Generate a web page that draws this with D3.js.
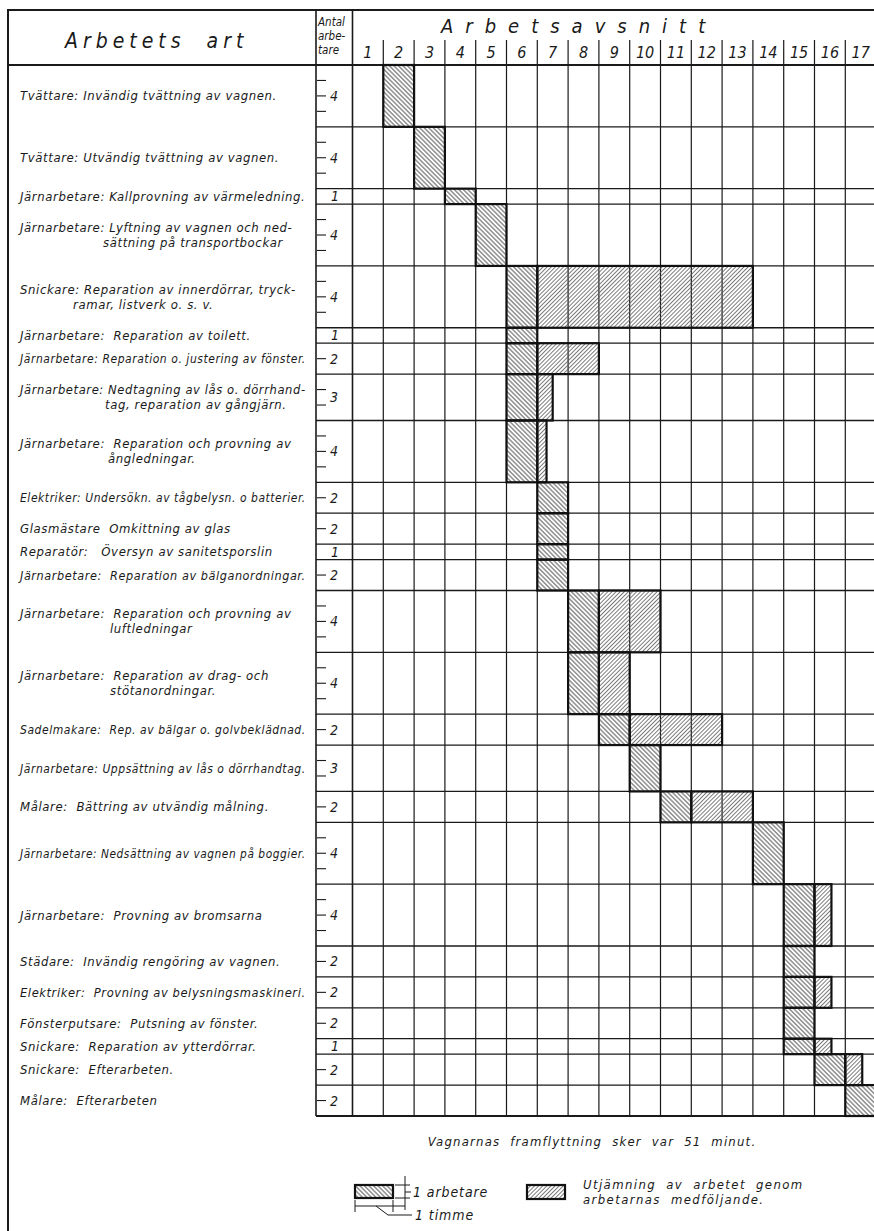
<!DOCTYPE html>
<html><head><meta charset="utf-8">
<script src="https://cdn.jsdelivr.net/npm/d3@7"></script>
<style>
body{margin:0;background:#fff}
text{font-family:"DejaVu Sans Condensed","DejaVu Sans",sans-serif;font-style:italic;fill:#1a1a1a;white-space:pre}
</style>
</head><body>
<svg id="c" width="874" height="1231"></svg>
<script>
// ---------------- DATA ----------------
const labels = [
 ["Tvättare: Invändig tvättning av vagnen."],
 ["Tvättare: Utvändig tvättning av vagnen."],
 ["Järnarbetare: Kallprovning av värmeledning."],
 ["Järnarbetare: Lyftning av vagnen och ned-", "sättning på transportbockar"],
 ["Snickare: Reparation av innerdörrar, tryck-", "ramar, listverk o. s. v."],
 ["Järnarbetare:  Reparation av toilett."],
 ["Järnarbetare: Reparation o. justering av fönster."],
 ["Järnarbetare: Nedtagning av lås o. dörrhand-", "tag, reparation av gångjärn."],
 ["Järnarbetare:  Reparation och provning av", "ångledningar."],
 ["Elektriker: Undersökn. av tågbelysn. o batterier."],
 ["Glasmästare  Omkittning av glas"],
 ["Reparatör:   Översyn av sanitetsporslin"],
 ["Järnarbetare:  Reparation av bälganordningar."],
 ["Järnarbetare:  Reparation och provning av", "luftledningar"],
 ["Järnarbetare:  Reparation av drag- och", "stötanordningar."],
 ["Sadelmakare:  Rep. av bälgar o. golvbeklädnad."],
 ["Järnarbetare: Uppsättning av lås o dörrhandtag."],
 ["Målare:  Bättring av utvändig målning."],
 ["Järnarbetare: Nedsättning av vagnen på boggier."],
 ["Järnarbetare:  Provning av bromsarna"],
 ["Städare:  Invändig rengöring av vagnen."],
 ["Elektriker:  Provning av belysningsmaskineri."],
 ["Fönsterputsare:  Putsning av fönster."],
 ["Snickare:  Reparation av ytterdörrar."],
 ["Snickare:  Efterarbeten."],
 ["Målare:  Efterarbeten"]
];
const workers    = [4,4,1,4,4,1,2,3,4,2,2,1,2,4,4,2,3,2,4,4,2,2,2,1,2,2];
const startCol   = [2,3,4,5,6,6,6,6,6,7,7,7,7,8,8,9,10,11,14,15,15,15,15,15,16,17];
const workHours  = [1,1,1,1,1,1,1,1,1,1,1,1,1,1,1,1,1,1,1,1,1,1,1,1,1,1];
const extraHours = [0,0,0,0,7,0,2,0.5,0.3,0,0,0,0,2,1,3,0,2,0,0.55,0,0.55,0,0.55,0.55,0];
const columns    = ["1","2","3","4","5","6","7","8","9","10","11","12","13","14","15","16","17"];
const titleLeft  = "Arbetets art";
const titleAntal = ["Antal","arbe-","tare"];
const titleCols  = "Arbetsavsnitt";
const note       = "Vagnarnas framflyttning sker var 51 minut.";
const legendWork = ["1 arbetare","1 timme"];
const legendExtra= ["Utjämning av arbetet genom","arbetarnas medföljande."];

// ---------------- LAYOUT ----------------
const line2X = {3:103, 4:73, 7:105, 8:108, 13:110, 14:110};
const svg = d3.select("#c");
const ink = "#1a1a1a";
const W = 874;
const x = d3.scaleLinear().domain([0, columns.length]).range([352.5, 352.5 + columns.length*30.8]);
const total = d3.sum(workers);
const y = d3.scaleLinear().domain([0, total]).range([65, 1116]);
const cum = Array.from(d3.cumsum(workers));
const rows = workers.map((w,i)=>({i, w, y0:y(cum[i]-w), y1:y(cum[i]), label:labels[i],
  s:startCol[i]-1, work:workHours[i], extra:extraHours[i]}));

// patterns
const defs = svg.append("defs");
function hatch(id, angle, sp, col, sw){
  const p = defs.append("pattern").attr("id",id).attr("patternUnits","userSpaceOnUse")
    .attr("width",10).attr("height",sp).attr("patternTransform",`rotate(${angle})`);
  p.append("line").attr("x1",0).attr("x2",10).attr("y1",sp/2).attr("y2",sp/2)
    .attr("stroke",col).attr("stroke-width",sw);
}
hatch("back", 45, 3.2, "#444", 0.9);
hatch("fwd", -45, 2.9, "#5a5a5a", 0.8);

svg.append("rect").attr("width",W).attr("height",1231).attr("fill","#fff");

// grid: column lines
const g = svg.append("g");
g.selectAll(".vl").data(d3.range(1, columns.length+1)).join("line")
  .attr("x1",d=>x(d)).attr("x2",d=>x(d)).attr("y1",40).attr("y2",y(total))
  .attr("stroke",ink).attr("stroke-width",1.2);
// row lines
g.selectAll(".hl").data(rows).join("line")
  .attr("x1",316).attr("x2",W).attr("y1",d=>d.y1).attr("y2",d=>d.y1)
  .attr("stroke",ink).attr("stroke-width",d=>d.i===rows.length-1?1.8:1.3);

// frame
const frame = [
  [7,10,W,10,2.2],[8,10,8,1231,2],[7,65,W,65,2],
  [316,10,316,y(total),1.6],[x(0),10,x(0),y(total),1.6]
];
g.selectAll(".fr").data(frame).join("line")
  .attr("x1",d=>d[0]).attr("y1",d=>d[1]).attr("x2",d=>d[2]).attr("y2",d=>d[3])
  .attr("stroke",ink).attr("stroke-width",d=>d[4]);

// header texts
svg.append("text").attr("x",65).attr("y",48)
  .attr("font-size",21).attr("letter-spacing",5).attr("word-spacing",10).text(titleLeft);
svg.selectAll(".ah").data(titleAntal).join("text")
  .attr("x",318).attr("y",(d,i)=>26+i*14).attr("font-size",11.5).text(d=>d);
svg.append("text").attr("x",441).attr("y",33)
  .attr("font-size",20).attr("letter-spacing",12).text(titleCols);
svg.selectAll(".cn").data(columns).join("text")
  .attr("x",(d,i)=>(x(i)+x(i+1))/2).attr("y",58).attr("text-anchor","middle")
  .attr("font-size",16).text(d=>d);

// antal column ticks + numbers
rows.forEach(r=>{
  const h = (r.y1-r.y0)/r.w;
  for(let k=1;k<r.w;k++){
    svg.append("line").attr("x1",317).attr("x2",326).attr("y1",r.y0+k*h).attr("y2",r.y0+k*h)
      .attr("stroke",ink).attr("stroke-width",1.1);
  }
  svg.append("text").attr("x",r.w===1?331:330).attr("y",(r.y0+r.y1)/2+5).attr("font-size",14).text(r.w);
});

// labels (long ones are shrunk to fit the column)
const rightLimit = 306;
rows.forEach(r=>{
  const cy = (r.y0+r.y1)/2;
  const n = r.label.length;
  r.label.forEach((t,j)=>{
    const lx = j===0 ? 20 : line2X[r.i];
    const by = n===1 ? cy+4.5 : cy - 3 + j*15;
    const el = svg.append("text").attr("x",lx).attr("y",by).attr("font-size",13)
      .attr("letter-spacing",0.6).text(t);
    const len = el.node().getComputedTextLength();
    if(lx+len > rightLimit){
      const k = (rightLimit-lx)/len;
      el.attr("font-size",13*k).attr("letter-spacing",0.6*k);
    }
  });
});

// bars
const bars = svg.append("g");
rows.forEach(r=>{
  bars.append("rect").attr("x",x(r.s)).attr("y",r.y0).attr("width",x(r.s+r.work)-x(r.s)).attr("height",r.y1-r.y0)
    .attr("fill","url(#back)").attr("stroke","#111").attr("stroke-width",2.2);
  if(r.extra>0){
    bars.append("rect").attr("x",x(r.s+r.work)).attr("y",r.y0).attr("width",x(r.s+r.work+r.extra)-x(r.s+r.work)).attr("height",r.y1-r.y0)
      .attr("fill","url(#fwd)").attr("stroke","#111").attr("stroke-width",2.2);
  }
});

// note
svg.append("text").attr("x",592).attr("y",1146).attr("text-anchor","middle")
  .attr("font-size",13).attr("letter-spacing",1.2).attr("word-spacing",5).text(note);

// legend 1
const L = svg.append("g");
L.append("rect").attr("x",355).attr("y",1185).attr("width",38).attr("height",13)
  .attr("fill","url(#back)").attr("stroke","#111").attr("stroke-width",2.2);
const legLines = [
  [395,1185,410,1185],[395,1198,410,1198],[405,1176,405,1210],[405,1192,411,1192],
  [355,1200,355,1212],[393,1200,393,1212],[355,1206,405,1206],
  [376,1206,388,1215],[388,1215,412,1215]
];
L.selectAll(".ll").data(legLines).join("line")
  .attr("x1",d=>d[0]).attr("y1",d=>d[1]).attr("x2",d=>d[2]).attr("y2",d=>d[3])
  .attr("stroke",ink).attr("stroke-width",1);
L.append("text").attr("x",413).attr("y",1197).attr("font-size",14).attr("letter-spacing",0.9).text(legendWork[0]);
L.append("text").attr("x",415).attr("y",1220).attr("font-size",14).attr("letter-spacing",0.9).text(legendWork[1]);
// legend 2
L.append("rect").attr("x",527).attr("y",1185).attr("width",38).attr("height",14)
  .attr("fill","url(#fwd)").attr("stroke","#111").attr("stroke-width",2.2);
L.selectAll(".l2").data(legendExtra).join("text")
  .attr("x",583).attr("y",(d,i)=>1189+i*15).attr("font-size",13)
  .attr("letter-spacing",1.4).attr("word-spacing",5).text(d=>d);
</script>
</body></html>
